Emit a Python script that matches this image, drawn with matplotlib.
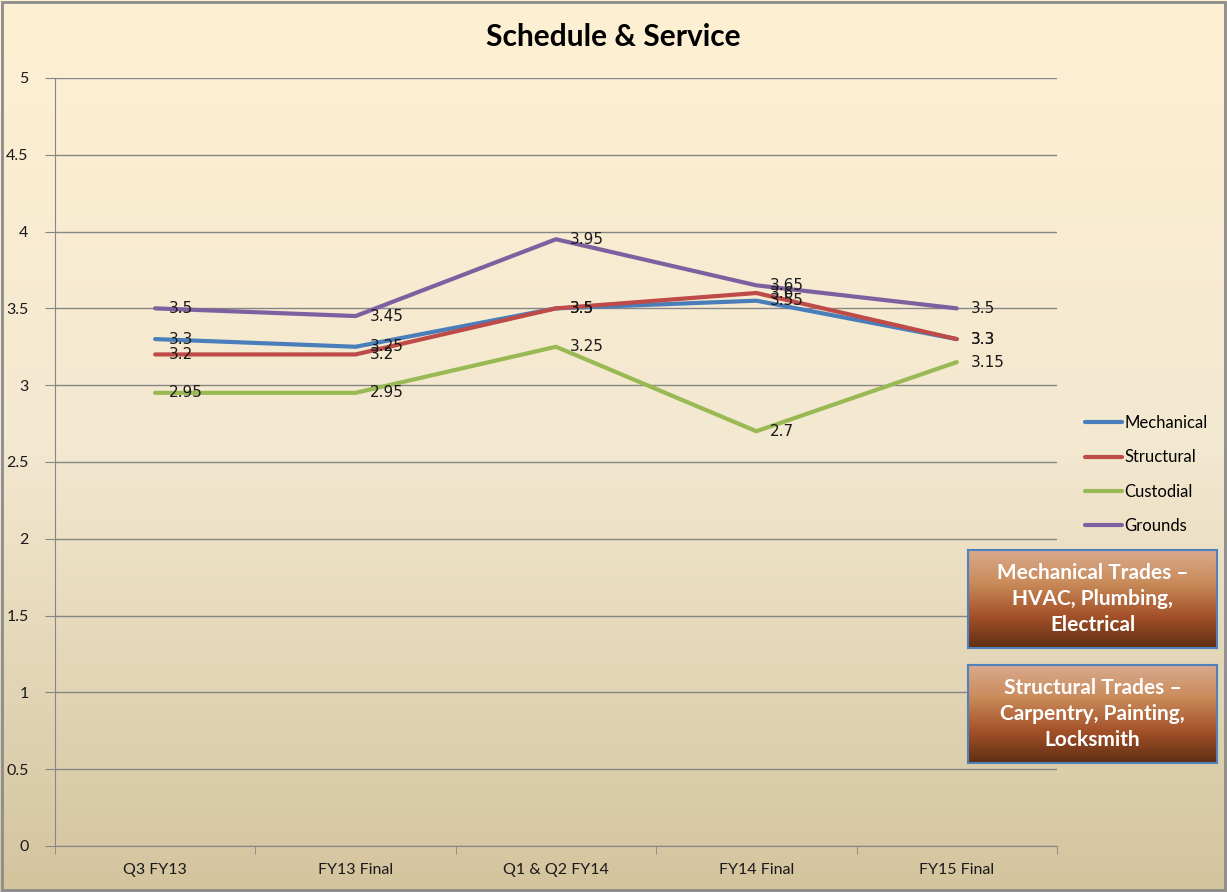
import numpy as np
import matplotlib.pyplot as plt
from matplotlib.colors import LinearSegmentedColormap
from matplotlib.patches import Rectangle

# data
periods = ['Q3 FY13', 'FY13 Final', 'Q1 & Q2 FY14', 'FY14 Final', 'FY15 Final']
mechanical = [3.3, 3.25, 3.5, 3.55, 3.3]
structural = [3.2, 3.2, 3.5, 3.6, 3.3]
custodial = [2.95, 2.95, 3.25, 2.7, 3.15]
grounds = [3.5, 3.45, 3.95, 3.65, 3.5]

series = [
    ('Mechanical', mechanical, '#4A7EBB'),
    ('Structural', structural, '#BE4B48'),
    ('Custodial', custodial, '#98B954'),
    ('Grounds', grounds, '#7D60A0'),
]
notes = ['Mechanical Trades \u2013\nHVAC, Plumbing,\nElectrical',
         'Structural Trades \u2013\nCarpentry, Painting,\nLocksmith']

ui_font = ['Lato', 'DejaVu Sans']

fig = plt.figure(figsize=(12.27, 8.92), dpi=100)

# background gradient over the whole figure
bg = fig.add_axes([0, 0, 1, 1], zorder=-10)
bg_cmap = LinearSegmentedColormap.from_list('bg', ['#FEF0D3', '#F3E8D0', '#D4C49E'])
grad = np.linspace(0, 1, 256).reshape(-1, 1)
bg.imshow(grad, cmap=bg_cmap, aspect='auto', extent=[0, 1, 0, 1])
bg.add_patch(Rectangle((0.002, 0.002), 0.996, 0.996, fill=False,
                       edgecolor='#8C8C8C', linewidth=2, transform=bg.transAxes))
bg.set_axis_off()

ax = fig.add_axes([0.0448, 0.0516, 0.8166, 0.861])
ax.patch.set_alpha(0)

x = np.arange(len(periods))
for name, vals, color in series:
    ax.plot(x, vals, color=color, linewidth=3, label=name, solid_capstyle='round')
    for xi, v in zip(x, vals):
        ax.annotate(f'{v:g}', (xi, v), xytext=(10, 0), textcoords='offset points',
                    va='center', ha='left', fontsize=11, color='#1A1A1A')

ax.set_xlim(-0.5, len(periods) - 0.5)
ax.set_ylim(0, 5)
ax.set_yticks(np.arange(0, 5.01, 0.5))
ax.set_yticklabels([f'{v:g}' for v in np.arange(0, 5.01, 0.5)])
ax.set_xticks(x)
ax.set_xticklabels(periods)
ax.set_xticks(np.arange(-0.5, len(periods), 1), minor=True)
ax.tick_params(axis='x', which='major', length=0, pad=12)
ax.tick_params(axis='x', which='minor', length=6, color='#868686', direction='out')
ax.tick_params(axis='y', length=7, color='#868686', pad=12)
for lab in ax.get_xticklabels() + ax.get_yticklabels():
    lab.set_family(ui_font)
    lab.set_fontsize(11.5)
    lab.set_color('#1A1A1A')

ax.grid(axis='y', color='#868686', linewidth=1)
ax.set_axisbelow(True)
for side in ['top', 'right']:
    ax.spines[side].set_visible(False)
for side in ['left', 'bottom']:
    ax.spines[side].set_color('#868686')

fig.text(0.5, 0.958, 'Schedule & Service', ha='center', va='center',
         fontsize=21.5, fontweight='bold', family=ui_font, color='black')

leg = fig.legend(loc='center left', bbox_to_anchor=(0.872, 0.468), frameon=False,
                 prop={'family': ui_font, 'size': 12}, handlelength=2.2,
                 handletextpad=0.15, labelspacing=1.1)

# brown note boxes
box_cmap = LinearSegmentedColormap.from_list('box', ['#D9AA8E', '#C98B5A', '#A5522A', '#5E2E12'])
for i, txt in enumerate(notes):
    top = 550 + i * 115
    bx = fig.add_axes([968 / 1227, 1 - (top + 98) / 892, 249 / 1227, 98 / 892])
    bx.imshow(grad, cmap=box_cmap, aspect='auto', extent=[0, 1, 0, 1])
    bx.set_xticks([])
    bx.set_yticks([])
    for sp in bx.spines.values():
        sp.set_color('#4F81BD')
        sp.set_linewidth(1.5)
    bx.text(0.5, 0.5, txt, ha='center', va='center', color='white',
            fontsize=15, fontweight='bold', family=ui_font, linespacing=1.38,
            transform=bx.transAxes)

fig.savefig('out.png', dpi=100)
